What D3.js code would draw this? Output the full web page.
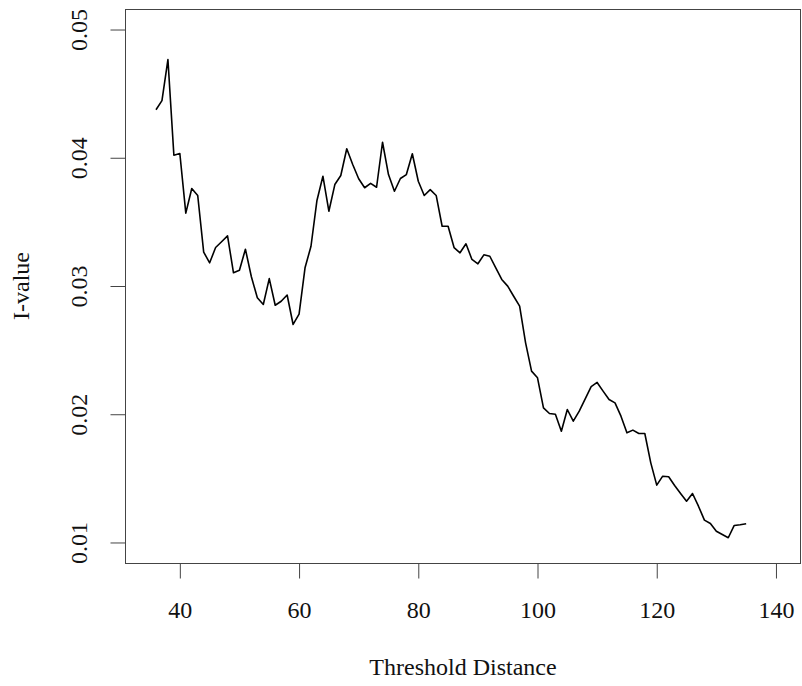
<!DOCTYPE html>
<html>
<head>
<meta charset="utf-8">
<script src="https://cdn.jsdelivr.net/npm/d3@7"></script>
<style>
  html, body { margin: 0; padding: 0; background: #fff; }
  svg { display: block; }
  text { font-family: "Liberation Serif", "Times New Roman", serif; fill: #111; }
</style>
</head>
<body>
<svg id="chart" width="802" height="686"></svg>
<script>
// Threshold distance (x) values
const distances = d3.range(36, 136);
// I-values, one per distance 36..135
const iValues = [
  0.04374, 0.04446, 0.04766, 0.04020, 0.04033, 0.03568, 0.03760, 0.03706, 0.03264, 0.03181,
  0.03300, 0.03345, 0.03391, 0.03103, 0.03123, 0.03287, 0.03072, 0.02908, 0.02856, 0.03058,
  0.02850, 0.02881, 0.02930, 0.02700, 0.02780, 0.03142, 0.03310, 0.03667, 0.03856, 0.03583,
  0.03791, 0.03862, 0.04070, 0.03947, 0.03836, 0.03766, 0.03800, 0.03770, 0.04121, 0.03869,
  0.03739, 0.03838, 0.03869, 0.04031, 0.03817, 0.03706, 0.03752, 0.03706, 0.03466, 0.03466,
  0.03300, 0.03259, 0.03329, 0.03207, 0.03173, 0.03243, 0.03232, 0.03142, 0.03051, 0.02999,
  0.02920, 0.02843, 0.02557, 0.02336, 0.02284, 0.02050, 0.02006, 0.02000, 0.01868, 0.02037,
  0.01946, 0.02024, 0.02120, 0.02216, 0.02248, 0.02180, 0.02115, 0.02089, 0.01985, 0.01855,
  0.01876, 0.01850, 0.01850, 0.01621, 0.01447, 0.01517, 0.01512, 0.01444, 0.01382, 0.01322,
  0.01382, 0.01283, 0.01174, 0.01148, 0.01088, 0.01062, 0.01037, 0.01133, 0.01138, 0.01146
];
const xTicks = [40, 60, 80, 100, 120, 140];
const yTicks = [0.01, 0.02, 0.03, 0.04, 0.05];
const xTitle = "Threshold Distance";
const yTitle = "I-value";

const svg = d3.select("#chart");
const pLeft = 125, pRight = 801, pTop = 9, pBottom = 563;

// R-style 4% padding around limits (35..140, 0.01..0.05)
const xs = d3.scaleLinear().domain([35 - 4.2, 140 + 4.2]).range([pLeft, pRight]);
const ys = d3.scaleLinear().domain([0.01 - 0.0016, 0.05 + 0.0016]).range([pBottom, pTop]);

const fontSize = 24;
const axisColor = "#444";

// Plot box
svg.append("rect")
  .attr("x", pLeft + 0.5).attr("y", pTop + 0.5)
  .attr("width", pRight - pLeft - 1).attr("height", pBottom - pTop)
  .attr("fill", "none").attr("stroke", axisColor).attr("stroke-width", 1);

// X axis
const xAxis = svg.append("g")
  .attr("transform", `translate(0,${pBottom + 0.5})`)
  .call(d3.axisBottom(xs).tickValues(xTicks).tickSize(15).tickPadding(22).tickFormat(d3.format("d")));
xAxis.select(".domain").attr("d", `M${xs(40)},0H${xs(140)}`).attr("stroke", axisColor);
xAxis.selectAll(".tick line").attr("stroke", axisColor);
xAxis.selectAll(".tick text")
  .attr("font-size", fontSize)
  .attr("font-family", "Liberation Serif, serif")
  .attr("fill", "#111");

// Y axis
const yAxis = svg.append("g")
  .attr("transform", `translate(${pLeft + 0.5},0)`)
  .call(d3.axisLeft(ys).tickValues(yTicks).tickSize(15).tickFormat(d3.format(".2f")));
yAxis.select(".domain").attr("d", `M0,${ys(0.01)}V${ys(0.05)}`).attr("stroke", axisColor);
yAxis.selectAll(".tick line").attr("stroke", axisColor);
yAxis.selectAll(".tick text")
  .attr("font-size", fontSize)
  .attr("font-family", "Liberation Serif, serif")
  .attr("fill", "#111")
  .attr("x", null).attr("dy", null)
  .attr("text-anchor", "middle")
  .attr("dominant-baseline", "central")
  .attr("transform", "translate(-47,0) rotate(-90)");

// Line
const line = d3.line()
  .x((d, i) => xs(distances[i]))
  .y(d => ys(d));
svg.append("path")
  .datum(iValues)
  .attr("d", line)
  .attr("fill", "none")
  .attr("stroke", "#000")
  .attr("stroke-width", 1.6)
  .attr("stroke-linejoin", "round");

// Titles
svg.append("text")
  .attr("x", (pLeft + pRight) / 2).attr("y", 667)
  .attr("text-anchor", "middle").attr("dominant-baseline", "central")
  .attr("font-size", fontSize)
  .text(xTitle);
svg.append("text")
  .attr("transform", `translate(21,${(pTop + pBottom) / 2}) rotate(-90)`)
  .attr("text-anchor", "middle").attr("dominant-baseline", "central")
  .attr("font-size", fontSize)
  .text(yTitle);
</script>
</body>
</html>
